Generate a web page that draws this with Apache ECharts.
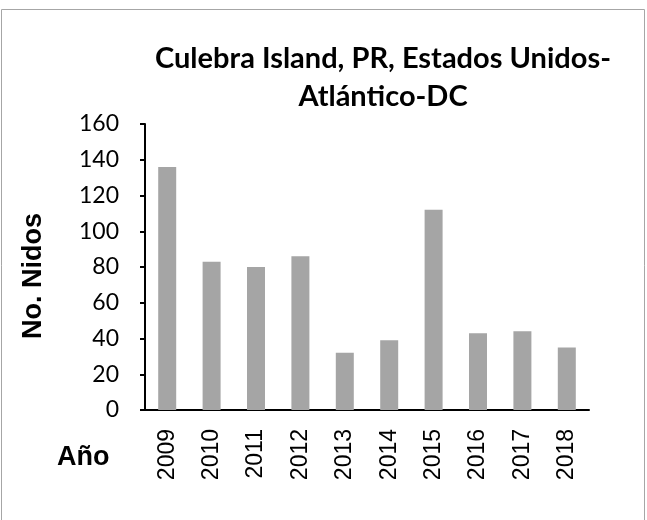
<!DOCTYPE html>
<html>
<head>
<meta charset="utf-8">
<script src="https://cdn.jsdelivr.net/npm/echarts@6/dist/echarts.min.js"></script>
<style>
  html, body { margin: 0; padding: 0; background: #fff; }
  #main { width: 647px; height: 520px; }
</style>
</head>
<body>
<div id="main"></div>
<script>
// data
const years = ['2009', '2010', '2011', '2012', '2013', '2014', '2015', '2016', '2017', '2018'];
const nidos = [136, 83, 80, 86, 32, 39, 112, 43, 44, 35];
const yTicks = { min: 0, max: 160, interval: 20 };

const myChart = echarts.init(document.getElementById('main'));

myChart.setOption({
    animation: false,
    backgroundColor: '#ffffff',
    title: {
        text: 'Culebra Island, PR, Estados Unidos-\nAtlántico-DC',
        left: 378,
        top: 35,
        textAlign: 'center',
        textStyle: {
            fontFamily: 'Lato',
            fontWeight: 'bold',
            fontSize: 29,
            lineHeight: 38,
            color: '#000'
        }
    },
    graphic: [
        {
            type: 'rect',
            shape: { x: 1.5, y: 9.5, width: 643, height: 520 },
            style: { fill: 'none', stroke: '#a6a6a6', lineWidth: 1 },
            silent: true
        },
        {
            type: 'text',
            x: 34,
            y: 276,
            rotation: Math.PI / 2,
            style: {
                text: 'No. Nidos',
                font: 'bold 27px "Liberation Sans"',
                fill: '#000',
                align: 'center',
                verticalAlign: 'middle'
            }
        },
        {
            type: 'text',
            left: 57,
            top: 444,
            style: {
                text: 'Año',
                font: 'bold 27px "Liberation Sans"',
                fill: '#000'
            }
        }
    ],
    grid: { left: 145, right: 58, top: 124, bottom: 110 },
    xAxis: {
        type: 'category',
        data: years,
        axisLine: { lineStyle: { color: '#000', width: 2 } },
        axisTick: { length: 6, lineStyle: { color: '#000', width: 2 } },
        axisLabel: {
            rotate: 90,
            margin: 19,
            fontFamily: 'Liberation Sans',
            fontSize: 23,
            color: '#000'
        }
    },
    yAxis: {
        type: 'value',
        min: yTicks.min,
        max: yTicks.max,
        interval: yTicks.interval,
        splitLine: { show: false },
        axisLine: { show: true, lineStyle: { color: '#000', width: 2 } },
        axisTick: { show: true, length: 5, lineStyle: { color: '#000', width: 2 } },
        axisLabel: {
            margin: 26,
            fontFamily: 'Lato',
            fontSize: 23,
            color: '#000'
        }
    },
    series: [{
        type: 'bar',
        data: nidos,
        barWidth: 18,
        itemStyle: { color: '#a5a5a5' }
    }]
});
</script>
</body>
</html>
